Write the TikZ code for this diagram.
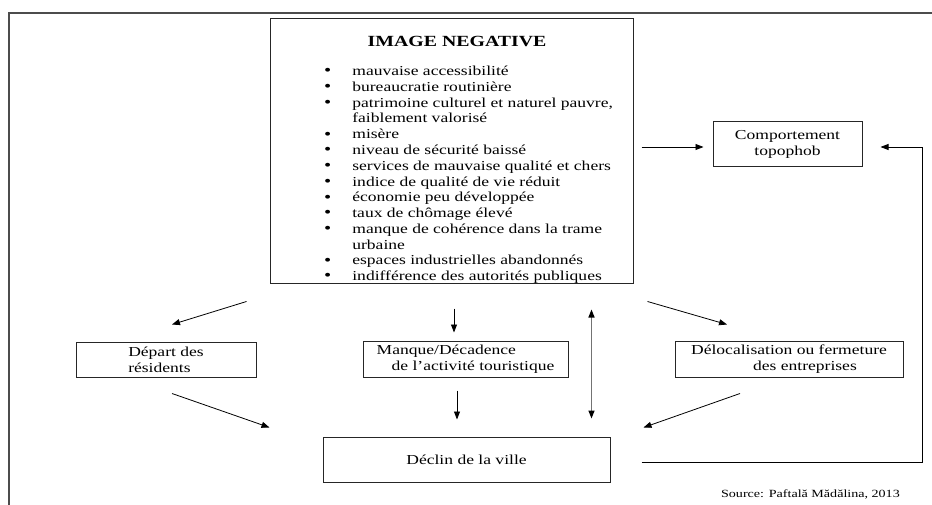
\documentclass[tikz,border=0pt]{standalone}
\usepackage{fontspec}
\setmainfont{Liberation Serif}[FakeStretch=1.28]
\usetikzlibrary{positioning, arrows.meta}

\newcommand\puce{\raisebox{-0.3pt}{\fontsize{16}{16}\selectfont\textbullet}}

\tikzset{
  boite/.style={draw=black!85, line width=1pt, inner sep=0pt, align=center,
    font=\fontsize{13.7}{15.77}\selectfont},
  fleche/.style={->, line width=0.8pt},
}

\begin{document}
\begin{tikzpicture}[x=1pt, y=-1pt, >={Triangle[length=8pt,width=6pt]}]
    \useasboundingbox (0,0) rectangle (932,505);
    % cadre
    \draw[black!70, line width=1.2pt] (932,13) -- (9,13) -- (9,505);

    % image negative
    \node[boite, minimum width=363pt, minimum height=264pt] (img) at (451.5,151) {};
    \node[font=\fontsize{15.5}{18}\selectfont\bfseries] (titre) at (457,41) {IMAGE NEGATIVE};
    \node[anchor=west, inner sep=0pt, font=\fontsize{13.7}{15.77}\selectfont] (liste) at (324,175) {%
      \begin{tabular}{@{}l@{\hspace{21pt}}l@{}}
      \puce & mauvaise accessibilité\\
      \puce & bureaucratie routinière\\
      \puce & patrimoine culturel et naturel pauvre,\\
            & faiblement valorisé\\
      \puce & misère\\
      \puce & niveau de sécurité baissé\\
      \puce & services de mauvaise qualité et chers\\
      \puce & indice de qualité de vie réduit\\
      \puce & économie peu développée\\
      \puce & taux de chômage élevé\\
      \puce & manque de cohérence dans la trame\\
            & urbaine\\
      \puce & espaces industrielles abandonnés\\
      \puce & indifférence des autorités publiques
      \end{tabular}};

    \node[boite, minimum width=149pt, minimum height=45pt] (comp) at (787.5,144.5) {Comportement\\topophob};
    \node[boite, align=left, minimum width=180pt, minimum height=35pt] (depart) at (166,359.5) {Départ des\\résidents};
    \node[boite, align=left, minimum width=205pt, minimum height=36pt] (manque) at (465.5,359) {Manque/Décadence\\\hspace*{15pt}de l’activité touristique};
    \node[boite, align=left, minimum width=228pt, minimum height=36pt] (deloc) at (789,359) {Délocalisation ou fermeture\\\hspace*{62pt}des entreprises};
    \node[boite, minimum width=287pt, minimum height=45pt] (declin) at (466.5,459.5) {Déclin de la ville};
    \node[anchor=east, inner sep=0pt, font=\fontsize{11}{13}\selectfont] (source) at (900,494) {Source: Paftală Mădălina, 2013};

    % fleches
    \draw[fleche] ([xshift=8pt,yshift=4pt]img.east) -- ([xshift=-9pt,yshift=-2.5pt]comp.west);
    \draw[fleche] ([xshift=-23pt,yshift=-18pt]img.south west) -- ([xshift=6pt,yshift=17pt]depart.north);
    \draw[fleche] ([xshift=2.5pt,yshift=-25pt]img.south) -- ([xshift=-11.5pt,yshift=8pt]manque.north);
    \draw[fleche] ([xshift=14pt,yshift=-18pt]img.south east) -- ([xshift=-62pt,yshift=16pt]deloc.north);
    \draw[{Triangle[length=8pt,width=6pt,color=black]}-{Triangle[length=8pt,width=6pt,color=black]}, black!55, line width=1.4pt]
      ([xshift=-42pt,yshift=-26pt]img.south east) -- ([xshift=-19pt,yshift=18pt]declin.north east);
    \draw[fleche] ([xshift=6pt,yshift=-16pt]depart.south) -- ([xshift=-53pt,yshift=9pt]declin.north west);
    \draw[fleche] ([xshift=-8.5pt,yshift=-13pt]manque.south) -- ([xshift=-9.5pt,yshift=17pt]declin.north);
    \draw[fleche] ([xshift=-49pt,yshift=-16pt]deloc.south) -- ([xshift=33pt,yshift=9pt]declin.north east);
    \draw[fleche] ([xshift=31pt,yshift=-2.5pt]declin.east) -- ++(281pt,0) |- ([xshift=18pt,yshift=-2.5pt]comp.east);
\end{tikzpicture}
\end{document}
